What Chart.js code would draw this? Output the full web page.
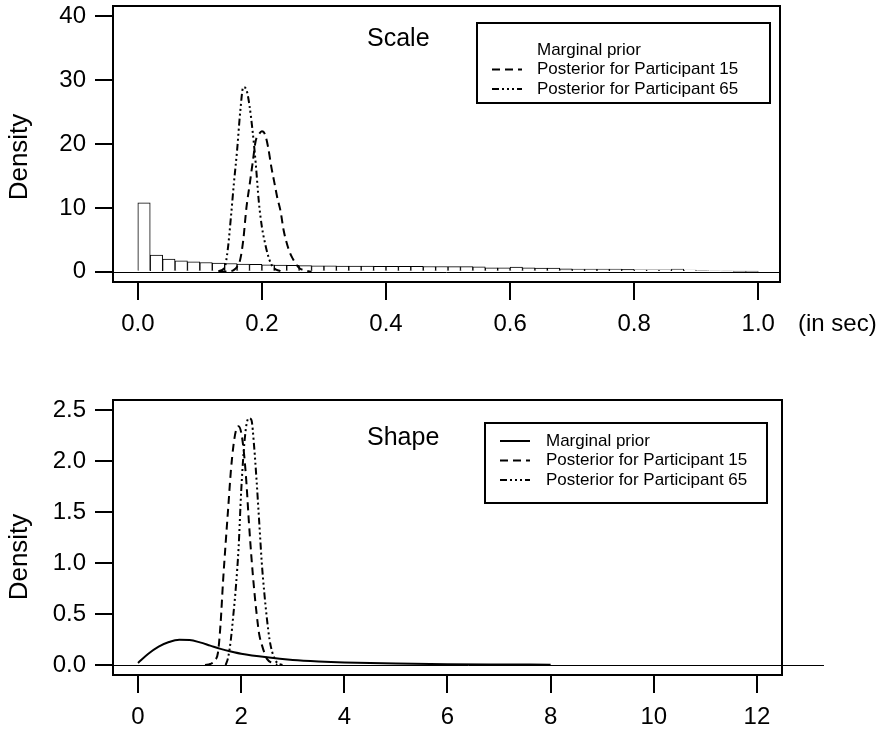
<!DOCTYPE html>
<html>
<head>
<meta charset="utf-8">
<script src="https://cdn.jsdelivr.net/npm/chart.js@4.4.1/dist/chart.umd.min.js"></script>
<style>
  body { margin: 0; background: #fff; }
  #wrap { position: relative; width: 887px; height: 733px; }
  .box { position: absolute; left: 0; width: 887px; }
</style>
</head>
<body>
<div id="wrap">
  <div class="box" style="top:0;height:370px"><canvas id="scaleChart"></canvas></div>
  <div class="box" style="top:370px;height:363px"><canvas id="shapeChart"></canvas></div>
</div>
<script>
// ---- Scale panel (histogram of prior + two posteriors) ----
var scaleBinMid = [0.01, 0.03, 0.05, 0.07, 0.09, 0.11, 0.13, 0.15, 0.17, 0.19,
  0.21, 0.23, 0.25, 0.27, 0.29, 0.31, 0.33, 0.35, 0.37, 0.39,
  0.41, 0.43, 0.45, 0.47, 0.49, 0.51, 0.53, 0.55, 0.57, 0.59,
  0.61, 0.63, 0.65, 0.67, 0.69, 0.71, 0.73, 0.75, 0.77, 0.79,
  0.81, 0.83, 0.85, 0.87, 0.89, 0.91, 0.93, 0.95, 0.97, 0.99];
var scalePrior = [10.8, 2.6, 2.0, 1.7, 1.55, 1.45, 1.35, 1.3, 1.2, 1.15,
  1.1, 1.05, 1.0, 0.97, 0.95, 0.93, 0.9, 0.9, 0.88, 0.87,
  0.86, 0.85, 0.84, 0.83, 0.82, 0.8, 0.8, 0.78, 0.62, 0.6,
  0.73, 0.6, 0.58, 0.57, 0.45, 0.43, 0.43, 0.42, 0.42, 0.4,
  0.32, 0.3, 0.3, 0.42, 0.26, 0.17, 0.16, 0.15, 0.06, 0.05];

var scaleP15X = [0.13, 0.15, 0.155, 0.16, 0.165, 0.17, 0.175, 0.18, 0.185, 0.19, 0.195, 0.2,
  0.205, 0.21, 0.215, 0.22, 0.225, 0.23, 0.235, 0.24, 0.245, 0.25, 0.255, 0.26, 0.27, 0.28];
var scaleP15Y = [0, 0.1, 0.3, 0.8, 1.9, 5, 10, 13.5, 17, 20.5, 21.5, 22,
  21.5, 19.5, 16.5, 14, 11.5, 9.5, 6.5, 4.5, 3, 2, 1.2, 0.6, 0.2, 0];

var scaleP65X = [0.13, 0.14, 0.145, 0.15, 0.155, 0.16, 0.165, 0.17, 0.175, 0.18, 0.185,
  0.19, 0.195, 0.2, 0.205, 0.21, 0.215, 0.22, 0.23];
var scaleP65Y = [0.1, 0.7, 3.5, 8.5, 14, 19, 25, 28.9, 28.5, 26, 22,
  17, 11, 7, 4.5, 2.5, 1.2, 0.5, 0.1];

var scaleXTicks = [0, 0.2, 0.4, 0.6, 0.8, 1.0];
var scaleXLabels = ["0.0", "0.2", "0.4", "0.6", "0.8", "1.0"];
var scaleYTicks = [0, 10, 20, 30, 40];
var scaleYLabels = ["0", "10", "20", "30", "40"];

// ---- Shape panel (density curves) ----
var shapePriorX = [0, 0.2, 0.4, 0.6, 0.8, 1.0, 1.2, 1.4, 1.6, 1.8, 2.0, 2.5, 3, 3.5, 4, 5, 6, 7, 8];
var shapePriorY = [0.02, 0.11, 0.18, 0.225, 0.248, 0.245, 0.222, 0.19, 0.158, 0.132, 0.11,
  0.075, 0.05, 0.035, 0.025, 0.014, 0.008, 0.005, 0.003];

var shapeP15X = [1.3, 1.4, 1.5, 1.55, 1.6, 1.65, 1.7, 1.75, 1.8, 1.85, 1.9, 1.95, 2.0, 2.05,
  2.1, 2.15, 2.2, 2.25, 2.3, 2.35, 2.4, 2.45, 2.5, 2.6, 2.7];
var shapeP15Y = [0, 0.01, 0.05, 0.12, 0.4, 0.83, 1.2, 1.55, 1.9, 2.15, 2.3, 2.34, 2.28, 2.1,
  1.8, 1.4, 1.05, 0.75, 0.5, 0.3, 0.2, 0.12, 0.06, 0.02, 0];

var shapeP65X = [1.7, 1.75, 1.8, 1.85, 1.9, 1.95, 2.0, 2.05, 2.1, 2.15, 2.2, 2.25, 2.3, 2.35,
  2.4, 2.45, 2.5, 2.55, 2.6, 2.65, 2.7, 2.8];
var shapeP65Y = [0, 0.08, 0.25, 0.5, 0.78, 1.15, 1.7, 2.1, 2.35, 2.42, 2.4, 2.15, 1.8, 1.4,
  1.0, 0.7, 0.45, 0.25, 0.13, 0.06, 0.02, 0];

var shapeXTicks = [0, 2, 4, 6, 8, 10, 12];
var shapeXLabels = ["0", "2", "4", "6", "8", "10", "12"];
var shapeYTicks = [0, 0.5, 1.0, 1.5, 2.0, 2.5];
var shapeYLabels = ["0.0", "0.5", "1.0", "1.5", "2.0", "2.5"];

var seriesNames = ["Marginal prior", "Posterior for Participant 15", "Posterior for Participant 65"];

var FONT = "'Liberation Sans', Arial, Helvetica, sans-serif";
var DASHED = [8, 5];
var DOTDASH = [7, 3, 2, 3, 2, 3, 2, 3];

function zip(xs, ys) {
  return xs.map(function (x, i) {
    return { x: x, y: ys[i] };
  });
}

function curve(label, xs, ys, dash) {
  return {
    type: "line",
    label: label,
    data: zip(xs, ys),
    borderColor: "#000",
    borderWidth: 2,
    borderDash: dash,
    pointRadius: 0,
    fill: false,
    cubicInterpolationMode: "monotone",
    order: 0,
  };
}

var framePlugin = {
  id: "frame",
  beforeDatasetsDraw: function (chart, args, opts) {
    var ctx = chart.ctx;
    var a = chart.chartArea;
    var y0 = Math.round(chart.scales.y.getPixelForValue(0)) + 0.5;
    var xEnd = chart.scales.x.getPixelForValue(opts.zeroTo);
    ctx.save();
    ctx.strokeStyle = "#000";
    ctx.lineWidth = 1;
    ctx.beginPath();
    ctx.moveTo(a.left, y0);
    ctx.lineTo(xEnd, y0);
    ctx.stroke();
    ctx.restore();
  },
  afterDraw: function (chart, args, opts) {
    var ctx = chart.ctx;
    var a = chart.chartArea;
    ctx.save();
    ctx.strokeStyle = "#000";
    ctx.fillStyle = "#000";
    ctx.lineWidth = 2;
    ctx.strokeRect(a.left, a.top, a.right - a.left, a.bottom - a.top);

    // panel title
    ctx.font = "25px " + FONT;
    ctx.textBaseline = "middle";
    ctx.textAlign = "left";
    ctx.fillText(opts.title, a.left + opts.titleDx, a.top + opts.titleDy);

    // y-axis title
    ctx.save();
    ctx.translate(20, a.top + opts.densityDy);
    ctx.rotate(-Math.PI / 2);
    ctx.textAlign = "center";
    ctx.font = "26px " + FONT;
    ctx.fillText("Density", 0, 0);
    ctx.restore();

    // unit note next to the x axis
    if (opts.unit) {
      ctx.font = "24px " + FONT;
      ctx.textAlign = "left";
      ctx.fillText(opts.unit, a.right + 18, a.bottom + 42);
    }

    // legend
    var lx = a.right - opts.legendDx;
    var ly = a.top + opts.legendDy;
    ctx.lineWidth = 2;
    ctx.strokeRect(lx, ly, opts.legendW, 80);
    ctx.font = "17px " + FONT;
    ctx.textAlign = "left";
    chart.data.datasets.forEach(function (ds, i) {
      var ry = ly + opts.rowDy + i * 19.5;
      ctx.fillText(ds.label, lx + opts.textDx, ry);
      if (ds.type === "line") {
        ctx.save();
        ctx.setLineDash(ds.borderDash || []);
        ctx.beginPath();
        ctx.moveTo(lx + 15, ry);
        ctx.lineTo(lx + 45, ry);
        ctx.stroke();
        ctx.restore();
      }
    });
    ctx.restore();
  },
};

function axes(xMin, xMax, xTicks, xLabels, xHeight, yMin, yMax, yTicks, yLabels) {
  var tickFont = { family: FONT, size: 24 };
  return {
    x: {
      type: "linear",
      min: xMin,
      max: xMax,
      offset: false,
      afterBuildTicks: function (s) {
        s.ticks = xTicks.map(function (v) { return { value: v }; });
      },
      afterFit: function (s) {
        s.height = xHeight;
        s.paddingLeft = 0; s.paddingRight = 0;
      },
      ticks: {
        autoSkip: false,
        maxRotation: 0,
        color: "#000",
        font: tickFont,
        padding: 10,
        callback: function (v, i) { return xLabels[i]; },
      },
      grid: { offset: false, drawOnChartArea: false, drawTicks: true, tickLength: 18, color: "#000", lineWidth: 2 },
      border: { display: false },
    },
    y: {
      type: "linear",
      min: yMin,
      max: yMax,
      afterBuildTicks: function (s) {
        s.ticks = yTicks.map(function (v) { return { value: v }; });
      },
      afterFit: function (s) {
        s.width = 113;
        s.paddingTop = 0; s.paddingBottom = 0;
      },
      ticks: {
        color: "#000",
        font: tickFont,
        padding: 9,
        callback: function (v, i) { return yLabels[i]; },
      },
      grid: { offset: false, drawOnChartArea: false, drawTicks: true, tickLength: 18, color: "#000", lineWidth: 2 },
      border: { display: false },
    },
  };
}

new Chart(document.getElementById("scaleChart"), {
  type: "line",
  data: {
    datasets: [
      {
        type: "bar",
        label: seriesNames[0],
        data: zip(scaleBinMid, scalePrior),
        backgroundColor: "#fff",
        borderColor: "#000",
        borderWidth: 1,
        barPercentage: 1,
        categoryPercentage: 1,
        grouped: false,
        order: 1,
      },
      curve(seriesNames[1], scaleP15X, scaleP15Y, DASHED),
      curve(seriesNames[2], scaleP65X, scaleP65Y, DOTDASH),
    ],
  },
  options: {
    responsive: true,
    maintainAspectRatio: false,
    animation: false,
    layout: { padding: { left: 0, top: 6, right: 107, bottom: 0 } },
    scales: axes(-0.04, 1.035, scaleXTicks, scaleXLabels, 88, -1.6, 41.6, scaleYTicks, scaleYLabels),
    plugins: {
      legend: { display: false },
      tooltip: { enabled: false },
      frame: {
        zeroTo: 1.035, title: "Scale", titleDx: 254, titleDy: 33, densityDy: 151, unit: "(in sec)",
        legendDx: 303, legendDy: 17, legendW: 293, rowDy: 27, textDx: 60,
      },
    },
  },
  plugins: [framePlugin],
});

new Chart(document.getElementById("shapeChart"), {
  type: "line",
  data: {
    datasets: [
      curve(seriesNames[0], shapePriorX, shapePriorY, []),
      curve(seriesNames[1], shapeP15X, shapeP15Y, DASHED),
      curve(seriesNames[2], shapeP65X, shapeP65Y, DOTDASH),
    ],
  },
  options: {
    responsive: true,
    maintainAspectRatio: false,
    animation: false,
    layout: { padding: { left: 0, top: 30, right: 105, bottom: 0 } },
    scales: axes(-0.485, 12.486, shapeXTicks, shapeXLabels, 58, -0.098, 2.598, shapeYTicks, shapeYLabels),
    plugins: {
      legend: { display: false },
      tooltip: { enabled: false },
      frame: {
        zeroTo: 13.3, title: "Shape", titleDx: 254, titleDy: 38, densityDy: 157, unit: null,
        legendDx: 297, legendDy: 23, legendW: 282, rowDy: 18, textDx: 61,
      },
    },
  },
  plugins: [framePlugin],
});
</script>
</body>
</html>
